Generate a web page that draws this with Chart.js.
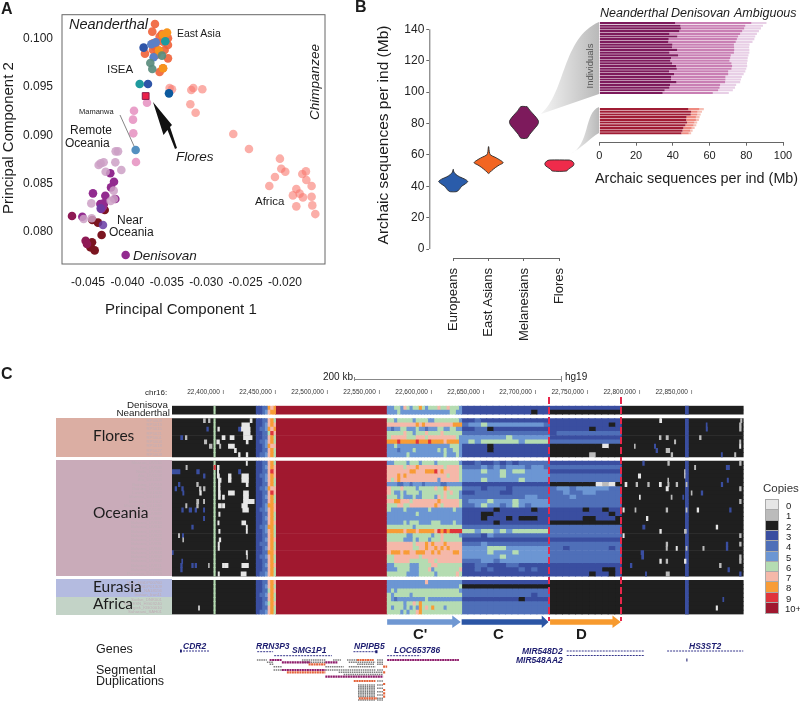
<!DOCTYPE html>
<html><head><meta charset="utf-8">
<script src="https://cdn.jsdelivr.net/npm/chart.js@4"></script>
<style>
html,body{margin:0;padding:0;background:#fff;width:800px;height:703px;overflow:hidden;font-family:"Liberation Sans",Arial,sans-serif;color:#1c1c1c}
canvas{position:absolute;display:block;filter:blur(.3px)}
.t{position:absolute;white-space:nowrap;line-height:1;transform:translateY(-50%)}
.r{position:absolute;white-space:nowrap;line-height:1;transform:translate(-50%,-50%) rotate(-90deg)}
.b{position:absolute}
svg{position:absolute;left:0;top:0}
</style></head><body>
<svg width="800" height="703" style="z-index:0">
<defs><linearGradient id="g" x1="0" x2="1" y1="0" y2="0"><stop offset="0" stop-color="#f4f4f4"/><stop offset="1" stop-color="#b9b9b9"/></linearGradient></defs>
<path d="M541,114 C566,92 562,38 599,22 L599,94 Z" fill="url(#g)"/>
<path d="M570,154 C590,146 584,112 599,107 L599,133 C590,138 582,148 570,154 Z" fill="url(#g)"/>
</svg>
<div id="pan"></div>
<canvas id="cA" width="328" height="300" style="left:-2px;top:0;z-index:1"></canvas>
<canvas id="cB" width="182" height="330" style="left:400px;top:20px;z-index:1"></canvas>
<canvas id="cI" width="220" height="150" style="left:580px;top:15px;z-index:1"></canvas>
<canvas id="cH" width="644" height="234" style="left:100px;top:385px;z-index:1"></canvas>
<canvas id="cT" width="572" height="91" style="left:172px;top:612px;z-index:1"></canvas>
<svg width="800" height="703" style="z-index:2;pointer-events:none">
<line x1="120" y1="115" x2="134" y2="146" stroke="#666" stroke-width="0.8"/>
<polygon points="153,102 163.5,135 167.5,130 175,149 177,148 170,127 172,125" fill="#111"/>
</svg>
<div id="ann" style="position:absolute;left:0;top:0;z-index:3"></div>
<script>
// ---------- Panel A: principal components ----------
const pc1Ticks=[-0.045,-0.040,-0.035,-0.030,-0.025,-0.020];
const pc2Ticks=[0.080,0.085,0.090,0.095,0.100];
const africaX=[-.02656,-.02457,-.02064,-.02047,-.01996,-.02127,-.02199,-.0178,-.01734,-.01729,-.01662,-.01856,-.01899,-.01814,-.01772,-.01662,-.01856,-.01653,-.01615,-.03163,-.03189,-.03049,-.03201,-.03134,-.03464,-.03434];
const africaY=[.09014,.08858,.08758,.08654,.08623,.08568,.08474,.08599,.08626,.08536,.08474,.08443,.08377,.08395,.08356,.08363,.08263,.08273,.08183,.09491,.09471,.09478,.09322,.09235,.09491,.09478];
const eastAsiaX=[-.0365,-.03684,-.03561,-.03591,-.03485,-.03675,-.03633,-.03548,-.03485,-.03777,-.03675,-.03599,-.03527,-.03485,-.03548,-.03591,-.03633,-.03654];
const eastAsiaY=[.10156,.10076,.10052,.10024,.10007,.09955,.09962,.09972,.09938,.09848,.09886,.09879,.09886,.09799,.09696,.09657,.09834,.0992];
const amberX=[-.03497,-.03548,-.03599,-.03548];
const amberY=[.10066,.10042,.09879,.09696];
const darkBlueX=[-.03794,-.03739];
const darkBlueY=[.0991,.09533];
const navyX=[-.03472];
const navyY=[.09436];
const midBlueX=[-.03696,-.03641,-.03667];
const midBlueY=[.09945,.09965,.0981];
const tealX=[-.03519,-.03844];
const tealY=[.09976,.09533];
const greyGreenX=[-.03561,-.03709,-.03684];
const greyGreenY=[.09827,.09751,.09689];
const floresX=[-.03768];
const floresY=[.09408];
const pinkX=[-.03751,-.03916,-.03929,-.03925,-.03891];
const pinkY=[.09339,.09256,.09163,.09021,.08723];
const mamanwaX=[-.03895];
const mamanwaY=[.08848];
const palePurpleX=[-.04149,-.04119,-.04153,-.04077,-.04301,-.04365,-.04339,-.04276,-.04174,-.04212,-.04458,-.04453,-.04555,-.0417];
const palePurpleY=[.08834,.08834,.0872,.0864,.0872,.08692,.08709,.08623,.08426,.08318,.08294,.08139,.08132,.08339];
const purpleX=[-.04217,-.0417,-.04208,-.04437,-.0428,-.04153,-.04343,-.04301,-.04331,-.0431,-.04572,-.04022];
const purpleY=[.08606,.08519,.0846,.08398,.08374,.08339,.08287,.08294,.08235,.0826,.08156,.07758];
const violetX=[-.0431,-.04339];
const violetY=[.08069,.08242];
const magentaX=[-.04703,-.0453,-.04513];
const magentaY=[.08163,.07907,.07872];
const darkRedX=[-.04327,-.04449,-.0447,-.04415,-.04301,-.04445,-.04373,-.04288];
const darkRedY=[.07966,.0789,.07838,.07806,.08287,.08121,.08094,.08225];

// ---------- Panel B: violins ----------
const groupNames=['Europeans','East Asians','Melanesians','Flores'];
const yMbTicks=[0,20,40,60,80,100,120,140];
const eurMb=[50.7,49,47.5,46,44.5,43,41.5,40,38.5,37,36.5];
const eurHalf=[.005,.02,.08,.18,.33,.41,.34,.24,.19,.13,.08];
const easMb=[65.2,62,60,58.5,57,55,53.5,52,50,48.2];
const easHalf=[.005,.02,.05,.18,.3,.41,.3,.2,.09,.01];
const melMb=[90.7,88,85,82,80.7,79,76,73,70.7];
const melHalf=[.09,.18,.3,.4,.41,.38,.27,.16,.09];
const floMb=[56.7,56,54.5,53,51,49.7];
const floHalf=[.28,.36,.41,.39,.26,.2];

// ---------- Panel B inset: per individual stacks ----------
const insetTicks=[0,20,40,60,80,100];
const melNeanderthal=[41.3,44.2,44.4,43.6,38.2,42.5,37.8,37.6,39.8,39.6,42.4,38.2,42.9,39.1,38.7,39.6,41.8,42.2,38,40.7,39.1,39.1,42,38.5,38.2,35.6,34.5];
const melDenisovan=[41.5,35.3,34.5,34.2,38.5,33.1,37.1,36.7,33.5,33.8,31.1,35.1,28.7,32.2,32.2,32.4,30.5,29.8,32.2,29.5,29.6,29.6,26.5,27.3,27.3,29.1,27.3];
const melAmbiguous=[8.2,9.6,9.1,9.1,9.1,9.3,9.5,9.1,8.5,8.2,8.2,8.4,9.6,9.5,9.8,8.4,8.2,8,9.3,8.4,8.9,8.4,8.2,8.7,8.4,8,8.7];
const floNeanderthal=[48.5,50,49.8,47.5,47.3,47.8,46.9,45.8,45.3,44.7];
const floDenisovan=[6,3.5,3.6,5.1,5.3,4,4.4,4.5,4.2,4];
const floAmbiguous=[2.4,2.4,1.8,2,1.6,1.5,1.5,1.6,1.3,1.3];

// ---------- Panel C: copy number (kb on chr16) ----------
const copyKeys=['0','1','2','3','4','5','6','7','8','9','X'];
const copyLabels=['0','1','2','3','4','5','6','7','8','9','10+'];
const copyColors=['#e6e6e6','#bbbbbb','#1f1f1f','#3a4ea0','#4f6fb8','#6c96d3','#b5dcb2','#f5b8a9','#f89c36','#e0343b','#a0182f'];
const chrTicks=[22400,22450,22500,22550,22600,22650,22700,22750,22800,22850];
const chrMin=22350.6, chrMax=22900.4;
const sampleNames=['Denisova','Neanderthal','',
'RP5009','RP5013','RP5015','RP5021','RP5001','RP5004','RP5018','RP5027','RP5008','',
'Mussau_UV516','Tari_UV500','Nialis_UV560','Ata_UV1154','Ata_UV1200','Baining_UV543','Baining_UV565','Lasen_UV1000','Mamusi_UV1049','Mamusi_UV1004','Mangseng_UV1260','Nasioi_UV1166','Nakanai_UV889','Nakanai_UV897','Nakanai_UV910','Nakanai_UV916','Nakanai_UV925','Nakanai_UV929','Nakanai_UV928','Nakanai_UV931','Nakanai_UV940','Nakanai_UV944','Nakanai_UV958','Nakanai_UV964','Nakanai_UV971','Nakanai_UV986','Punanga_UV1263','',
'Han_HGDP00760','Dai_HGDP01309','Japan_NA18156','Iranian_Iran11','Sudan_DNK001','EastESN_HG03240','Ogiek_KBO0010','Saharawi_SAH01'];
// shared spans in every sample: [copy, start kb, end kb]
const sharedSpans=[['2',22350.6,22431.5],['6',22390.8,22392.2],['X',22449.8,22557.4],['2',22782.2,22899.7],['3',22844,22847]];
const flankEdges=[22431.5,22434,22436.6,22439.2,22441.8,22444.3,22447.5,22449.8];
const zoneBounds=[22557.4,22628.7,22713.2,22782.2];
// per sample: flank columns, then C', C and D columns ('' = spacer row)
const rowFlank=['3344878','3345788','',
'3344786','3345787','3445878','3344697','3344786','3445786','3345877','3344786','3445786','',
'3344786','3345787','3344797','3445787','3345786','3344786','3445877','3344797','3345786','3344786','3345887','3445787','3344786','3345786','3344787','3445886','3345786','3344786','3345787','3444786','3345786','3344887','3445786','3344786','3345787','3344786','3445786','',
'3344787','3345786','3344687','3445786','3344786','3345687','3344786','3445786'];
const rowCPrime=['556657656686566676676665','555655555555555555556655','',
'665666665666655666666665','777777777878777777777888','545566555655455566556655','666667665666766667666666','677777666777677777777765','888988888988898888788885','556555555555555555556665','555455556555555565655665','555555655555555555655565','',
'556666566656666566666665','777776777877777777677776','777777788777888978777776','777878777777777777767776','767877777777777757777776','555445545554555554455555','766676666566666766876666','765565666656666666767665','666565556556666576766665','778877767777777787777776','666776677777777876777776','655556555555565555555655','555555555655555555555555','555555555555555555555555','555556566655556665555655','666666665666666666666666','888887888788888798989999','666666556666665667666665','666665556566656667666666','777777776777878777877777','777777776677877878787777','788878877888778787777887','667777777767777777777777','667777766666677677777777','556666655566667766666666','555666655566675666666667','666666555566666566666676','',
'555555555555755555555555','555555555555555555555556','565666666666666666666665','656666656666666666666666','654555555555655555555555','666665667686666666666666','656665656586768666566666','666656566786666666666666'];
const rowC=['33333333333333','33333333333233','',
'33433333333333','45565555555554','33442333333333','44444444444444','55555556555555','56566666656666','33332333333333','33332333333333','33333333333333','',
'33433434344444','44454545554554','55565565665555','55555565555555','55565555565555','33333333333333','44434443444444','33444433444444','44444444445544','45556555655555','44565545654555','33333233333233','33322333333333','33323332322233','33333233333333','44444444444444','66566565666666','44435444444444','33333333333333','44454444444444','55556665555555','55556555655555','55555565555555','44455455555555','33443334433333','33434333343433','33333333333333','',
'33333333333333','22222222222222','44444444444444','44444444444344','33333333323333','44444444444444','44444444444444','44444444444444'];
const rowD=['33333333333','22222222222','',
'33333333333','33333333323','33333323333','34444444444','33333333333','44444444444','22222222022','22222222222','22222212222','',
'33333333333','44444444444','33333333333','44444444444','44444444444','22222220102','45545555544','44544554444','44454444444','44444444444','44444444444','33333233233','33333333323','33333223332','22222222222','44444444444','44444444444','44444444444','33333333333','44444444444','44344444434','44444444444','44444444444','44444444444','33333333333','33333333223','33333323323','',
'22222222222','22222222222','22222222222','22222222222','22222222222','22222222222','22222222222','22222222222'];
// small isolated spans per sample: [copy, start kb, end kb]
const rowSpecks=[[],[],[],
[['1',22380.8,22382.7],['1',22385.6,22387.2],['0',22425.7,22427.6],['0',22819.3,22820.4],['0',22820,22821.3],['1',22897.1,22898.4]],
[['0',22417.7,22425.1],['3',22864,22865],['1',22896.1,22897.7]],
[['3',22384,22385.6],['3',22414.5,22416.7],['0',22394.6,22396.2],['0',22417,22425.7],['3',22864,22865.3],['1',22896.1,22897.7]],
[['0',22419.3,22425.7]],
[['3',22358.9,22360.9],['1',22363.4,22365],['0',22398.7,22401.6],['0',22406.4,22410.3],['0',22419.3,22427.6],['1',22819,22820.7],['1',22825.5,22827.7],['1',22857.6,22859.2]],
[['0',22393.6,22396.2],['0',22421.9,22423.8],['1',22381.7,22384],['1',22833.5,22834.8],['1',22896.1,22897.4]],
[['1',22386.5,22389.1],['1',22396.2,22397.5],['0',22404.8,22410.6],['1',22795,22795.9],['3',22814.2,22815.5],['0',22896.1,22897.4]],
[['0',22410.6,22412.5],['1',22825.5,22829],['3',22815.8,22817.4]],
[['0',22414.5,22416.1],['0',22421.9,22423.5],['1',22830.3,22831.9],['3',22878.5,22879.7],['1',22891.3,22892.6]],[],
[['0',22421.9,22423.1],['3',22803,22804.6],['1',22827.1,22828.7],['1',22896.1,22897.7]],
[['1',22364,22365.3],['9',22391,22392.3],['0',22394.2,22395.9],['3',22883.3,22886.5],['1',22852.8,22854]],
[['3',22350.9,22358.3],['3',22374.3,22376.9],['3',22414.5,22416.7],['0',22394.2,22395.5],['1',22843.1,22843.8]],
[['3',22380.8,22382.4],['0',22394.2,22396.2],['0',22404.8,22407.4],['0',22417.7,22424.1],['0',22798.8,22801.1],['1',22843.1,22843.8]],
[['0',22395.2,22397.8],['0',22404.8,22407.4],['0',22417.7,22424.1],['1',22827.1,22828],['3',22884.2,22885.5]],
[['3',22356.7,22358.3],['1',22374.3,22375.9],['0',22395.2,22396.8],['0',22421.9,22423.8],['0',22786,22787.9],['1',22796.6,22798.2],['1',22807.8,22809.4],['0',22819,22821],['1',22827.1,22828.4],['1',22835.1,22836.7],['1',22844.7,22845.7],['3',22878.5,22880]],
[['3',22353.5,22355.1],['3',22359.9,22361.5],['1',22376.9,22378.5],['1',22380.8,22382.4],['0',22395.2,22396.8],['0',22825.5,22827.7],['1',22896.1,22897.7]],
[['3',22360.9,22362.1],['0',22377.2,22378.8],['0',22395.2,22397.1],['0',22404.8,22410.6],['0',22419.3,22424.1],['3',22859.2,22860.8],['1',22849.6,22850.5]],
[['0',22395.2,22397.1],['0',22399.1,22401],['0',22419.3,22424.1],['0',22799.8,22800.8],['1',22830.3,22831.3],['3',22841.5,22842.5]],
[['1',22374.3,22376.3],['1',22380.8,22382],['0',22419.3,22424.1],['0',22424.1,22429.6],['1',22896.1,22897.7]],
[['1',22363.7,22365],['1',22374.3,22375.9],['0',22395.2,22398.1],['0',22399.1,22401.3],['0',22417.7,22423.1]],
[['3',22359.9,22361.5],['3',22367,22369.5],['3',22372.7,22374.3],['3',22380.8,22382],['0',22418.6,22424.1],['0',22784,22785.3],['1',22795.6,22796.6],['1',22825.5,22827.1],['1',22844.7,22845.7],['0',22855.3,22856.9],['3',22886.5,22888.1]],
[['0',22395.5,22396.8]],
[['3',22380.8,22382],['0',22806.5,22808.1],['3',22844.7,22845.7]],
[['0',22394.6,22395.9],['0',22417.7,22421.5]],
[['3',22369.5,22371.1],['0',22421.9,22423.1],['3',22803,22805.2],['0',22873.6,22875.2]],
[['0',22395.5,22396.8],['0',22421.9,22423.1],['0',22819.4,22821],['1',22843.1,22845]],
[['1',22356.7,22358],['3',22360.5,22361.8],['0',22784,22785.3],['1',22896.1,22897.7]],
[['0',22395.9,22397.5],['1',22360.9,22361.8]],
[['0',22394.9,22396.2],['1',22825.5,22827.1],['3',22883.3,22884.9],['1',22896.1,22897.7]],
[['0',22394.9,22396.2],['1',22825.5,22826.8],['0',22835.1,22836.4],['1',22844.7,22845.7],['1',22860.8,22862.1],['3',22883.3,22884.9]],
[['3',22350.9,22351.9],['0',22421.9,22423.1],['3',22801.4,22804]],
[['0',22422.5,22423.1],['3',22802,22804],['1',22896.1,22897.7]],
[['3',22359.9,22360.9],['0',22819.4,22821],['1',22825.5,22827.1],['0',22843.1,22844.7],['1',22896.1,22897.7]],
[['3',22358.9,22360.5],['3',22369.5,22371.1],['3',22372.7,22374.3],['1',22385.6,22386.5],['0',22399.1,22400.7],['0',22401,22404.5],['0',22417.7,22424.1],['3',22791.1,22792.7],['1',22876.8,22878.5]],
[['3',22358.9,22360.5],['3',22884.9,22886.5]],
[['0',22394.9,22396.2],['0',22417,22421.9],['3',22805.6,22806.8],['1',22825.5,22828.7],['3',22896.1,22897.7]],[],
[],[],[],[],[['3',22880,22881]],[],[['1',22375.9,22377.2],['0',22873.6,22875]],[]];

// ---------- Panel C tracks ----------
const arrowStart=[22557.4,22629,22714];
const arrowNeck=[22620,22706,22774];
const arrowTip=[22628.2,22712.5,22782];
const arrowColors=['#6f97d2','#2b55a5','#f79a2e'];
const geneSpans=[[22358.3,22386.5,39],[22432.5,22447.8,39.7],[22448.8,22504.4,43.7],[22525,22548.1,39.7],[22557.4,22589.5,43.7],[22730,22805,39],[22730,22805,43.5],[22826.5,22899.7,39]];
const geneExons=[[22358.3,22360,39],[22546,22548.1,39.7],[22845,22846,48]];
const grayDups=[[22432.2,22441.8,48],[22475.5,22498,48],[22505.4,22513,48],[22518.8,22528.5,48],[22547.7,22553.5,48],[22441.8,22448.2,50.3],[22475.5,22498,50.3],[22520.5,22546,50.3],[22547.7,22553.5,50.3],[22444.4,22448,52.3],[22528.5,22545,52.3],[22547.7,22553.5,52.3],[22448.2,22456.2,54.7],[22498,22515.6,54.7],[22520.5,22546.1,54.7],[22448.2,22456.2,58],[22498,22510.8,58],[22510.8,22546.1,58],[22547.7,22553.5,58],[22510.8,22553.5,60.3],[22515.6,22553.5,62.5],[22547.7,22553.5,69],[22529.4,22546.1,73],[22529.4,22546.1,74.7],[22529.4,22546.1,76.3],[22529.4,22546.1,78],[22529.4,22546.1,79.7],[22529.4,22546.1,81.3],[22529.4,22546.1,83],[22529.4,22546.1,84.7],[22529.4,22546.1,88],[22547.7,22553.5,73],[22547.7,22553.5,76.3],[22547.7,22553.5,79.7],[22547.7,22553.5,83],[22547.7,22553.5,86.3],[22547.7,22553.5,88]];
const maroonDups=[[22444.4,22456.2,48],[22557.4,22626.4,48],[22456.2,22483.5,50.3],[22498,22510,50.3],[22456.2,22498,58],[22498,22553.5,64.7]];
const orangeDups=[[22528.5,22544.5,48],[22481.9,22498,52.3],[22553.5,22557.4,54.7],[22461,22498,60.3],[22553.5,22556,60.3],[22525.3,22546.1,69],[22553.5,22556,72],[22553.5,22556,78],[22553.5,22556,81.3],[22553.5,22556,84.7],[22530.1,22547.7,86.3]];

// ---------- helpers ----------
Chart.defaults.font.family='"Liberation Sans",Arial,sans-serif';
Chart.defaults.animation=false;
Chart.defaults.layout.autoPadding=false;
const pts=(xs,ys)=>xs.map((x,i)=>({x,y:ys[i]}));
const explicit=list=>s=>{s.ticks=list.map(value=>({value}));};
const pinW=w=>s=>{s.width=w;};
const pinH=h=>s=>{s.height=h;};

// ---------- Chart A ----------
const frame={id:'frame',afterDraw(c){const a=c.chartArea,g=c.ctx;g.save();g.strokeStyle='#666';g.lineWidth=1;g.strokeRect(a.left,a.top,a.right-a.left,a.bottom-a.top);g.restore();}};
const sc=(xs,ys,color,extra)=>Object.assign({data:pts(xs,ys),backgroundColor:color,borderWidth:0,pointRadius:4.3,pointHoverRadius:4.3},extra||{});
new Chart(document.getElementById('cA'),{type:'scatter',plugins:[frame],
 data:{datasets:[
  sc(floresX,floresY,'#ec2049',{pointStyle:'rect',pointRadius:4.8,borderWidth:1,borderColor:'#8c1a4b'}),
  sc(pinkX,pinkY,'rgba(231,150,195,.9)'),
  sc(mamanwaX,mamanwaY,'#5490c0'),
  sc(navyX,navyY,'#0d5a9e'),
  sc(tealX,tealY,'#1f9a9e'),
  sc(greyGreenX,greyGreenY,'rgba(90,140,125,.92)'),
  sc(midBlueX,midBlueY,'#5b80c6'),
  sc(darkBlueX,darkBlueY,'#2f55a8'),
  sc(amberX,amberY,'#f7941d'),
  sc(eastAsiaX,eastAsiaY,'rgba(240,98,56,.9)'),
  sc(violetX,violetY,'rgba(105,60,165,.85)'),
  sc(palePurpleX,palePurpleY,'rgba(205,160,198,.85)'),
  sc(purpleX,purpleY,'#922b8f'),
  sc(magentaX,magentaY,'#8e1a55'),
  sc(darkRedX,darkRedY,'#7b1520'),
  sc(africaX,africaY,'rgba(248,120,110,.6)')
 ]},
 options:{responsive:false,plugins:{legend:{display:false},tooltip:{enabled:false}},layout:{autoPadding:false,padding:{top:14.7,right:1}},
  scales:{
   x:{type:'linear',min:-0.0483,max:-0.01492,afterBuildTicks:explicit(pc1Ticks),afterFit:pinH(36),grid:{display:false},border:{display:false},
      ticks:{color:'#222',font:{size:12},padding:3,maxRotation:0,callback:v=>v.toFixed(3)}},
   y:{type:'linear',min:0.07665,max:0.10252,afterBuildTicks:explicit(pc2Ticks),afterFit:pinW(64),grid:{display:false},border:{display:false},
      ticks:{color:'#222',font:{size:12},padding:1,callback:v=>v.toFixed(3)}}
  }}});

// ---------- Chart B ----------
const violin=(idx,mb,half,color)=>{
 const right=mb.map((y,i)=>({x:idx+half[i],y}));
 const left=mb.map((y,i)=>({x:idx-half[i],y})).reverse();
 return {data:right.concat(left,[right[0]]),showLine:true,fill:'shape',backgroundColor:color,borderColor:'#2b2b2b',borderWidth:.9,pointRadius:0,tension:.3};
};
const despine={id:'despine',afterDraw(c){const g=c.ctx,x=c.scales.x,y=c.scales.y;g.save();g.strokeStyle='#666';g.lineWidth=1;g.beginPath();
 g.moveTo(x.left+.5,y.getPixelForValue(0));g.lineTo(x.left+.5,y.getPixelForValue(140));
 g.moveTo(x.getPixelForValue(0),y.bottom+.5);g.lineTo(x.getPixelForValue(3),y.bottom+.5);g.stroke();g.restore();}};
new Chart(document.getElementById('cB'),{type:'scatter',plugins:[despine],
 data:{datasets:[violin(0,eurMb,eurHalf,'#2a5caa'),violin(1,easMb,easHalf,'#f26522'),violin(2,melMb,melHalf,'#7d1a5c'),violin(3,floMb,floHalf,'#ef2b4b')]},
 options:{responsive:false,plugins:{legend:{display:false},tooltip:{enabled:false}},layout:{autoPadding:false,padding:{top:9.3}},
  scales:{
   x:{type:'linear',min:-0.675,max:3.49,afterBuildTicks:explicit([0,1,2,3]),afterFit:pinH(92),border:{display:false},
      grid:{drawOnChartArea:false,drawTicks:true,tickLength:3,color:'#666'},
      ticks:{autoSkip:false,color:'#222',font:{size:13},minRotation:90,maxRotation:90,padding:7,callback:v=>groupNames[v]}},
   y:{type:'linear',min:-5.73,max:140,afterBuildTicks:explicit(yMbTicks),afterFit:pinW(29.3),border:{display:false},
      grid:{drawOnChartArea:false,drawTicks:true,tickLength:3,color:'#666'},
      ticks:{color:'#222',font:{size:12},padding:2}}
  }}});

// ---------- Inset ----------
const blanks=n=>Array(n).fill(null);
const insetLabels=blanks(45).map((_,i)=>String(i));
const stackSet=(mel,flo,cm,cf)=>({data:mel.concat(blanks(5),flo,blanks(3)),backgroundColor:mel.map(()=>cm).concat(blanks(5).map(()=>cm),flo.map(()=>cf),blanks(3).map(()=>cf)),barPercentage:.8,categoryPercentage:1,borderWidth:0});
new Chart(document.getElementById('cI'),{type:'bar',
 data:{labels:insetLabels,datasets:[stackSet(melNeanderthal,floNeanderthal,'#7d1a5c','#a01c34'),stackSet(melDenisovan,floDenisovan,'#c97fb4','#ee8a80'),stackSet(melAmbiguous,floAmbiguous,'#e8cfe6','#f6bfb5')]},
 options:{indexAxis:'y',responsive:false,plugins:{legend:{display:false},tooltip:{enabled:false}},layout:{autoPadding:false,padding:{left:19.3,right:17,top:6.7}},
  scales:{
   x:{type:'linear',stacked:true,min:0,max:100,afterBuildTicks:explicit(insetTicks),afterFit:pinH(22.3),border:{color:'#666'},
      grid:{drawOnChartArea:false,drawTicks:true,tickLength:3,color:'#666'},ticks:{color:'#222',font:{size:11},padding:4,maxRotation:0}},
   y:{stacked:true,display:false}
  }}});

// ---------- Heat map ----------
const colorOf=k=>copyColors[copyKeys.indexOf(k)];
const rowSpans=sampleNames.map((name,r)=>{
 if(!name) return [];
 const out=[];
 rowSpecks[r].forEach(s=>out.push(s));
 const f=rowFlank[r];
 for(let i=0;i<f.length;i++) out.push([f[i],flankEdges[i],flankEdges[i+1]+.4]);
 [rowCPrime[r],rowC[r],rowD[r]].forEach((str,z)=>{
  const w=(zoneBounds[z+1]-zoneBounds[z])/str.length;
  for(let i=0;i<str.length;i++) out.push([str[i],zoneBounds[z]+i*w,zoneBounds[z]+(i+1)*w+.4]);
 });
 return out;
});
const maxSpecks=Math.max(...rowSpecks.map(s=>s.length));
const layers=[];
for(let i=0;i<maxSpecks;i++) layers.push(sampleNames.map((n,r)=>rowSpecks[r][i]||null));
const bandCount=rowFlank[0].length+rowCPrime[0].length+rowC[0].length+rowD[0].length;
for(let i=0;i<bandCount;i++) layers.push(sampleNames.map((n,r)=>n?rowSpans[r][rowSpecks[r].length+i]:null));
[sharedSpans[4],sharedSpans[1],sharedSpans[0],sharedSpans[2],sharedSpans[3]].forEach(s=>layers.push(sampleNames.map(n=>n?s:null)));
const heatSets=layers.map(l=>({stack:'a',data:l.map(s=>s?[s[1],s[2]]:null),backgroundColor:l.map(s=>s?colorOf(s[0]):'transparent'),borderWidth:0,barPercentage:1,categoryPercentage:1}));
const chrMarks={id:'chrMarks',afterDraw(c){const g=c.ctx,x=c.scales.x;g.save();g.strokeStyle='#777';g.lineWidth=.8;g.beginPath();chrTicks.forEach(t=>{const p=x.getPixelForValue(t);g.moveTo(p,5);g.lineTo(p,9);});g.stroke();g.restore();}};
new Chart(document.getElementById('cH'),{type:'bar',plugins:[chrMarks],
 data:{labels:sampleNames,datasets:heatSets},
 options:{indexAxis:'y',responsive:false,layout:{autoPadding:false},plugins:{legend:{display:false},tooltip:{enabled:false}},
  scales:{
   x:{type:'linear',position:'top',stacked:false,min:chrMin,max:chrMax,afterBuildTicks:explicit(chrTicks),afterFit:pinH(20.7),border:{display:false},
      grid:{display:false},ticks:{align:'end',color:'#333',font:{size:6.5},padding:2,maxRotation:0,autoSkip:false,callback:v=>(v*1000).toLocaleString('en-US')+'  '}},
   y:{stacked:true,afterFit:pinW(72),border:{display:false},grid:{display:false},
      ticks:{autoSkip:false,padding:2,font:{size:4.3},color:'#c0aeb6',callback(v,i){return i<2?'':sampleNames[i];}}}
  }}});

// ---------- Tracks ----------
const seg=(s,c,w,dash)=>({data:[{x:s[0],y:s[2]},{x:s[1],y:s[2]}],showLine:true,borderColor:c,borderWidth:w,borderDash:dash||[],pointRadius:0});
const arrow=i=>({data:[{x:arrowStart[i],y:7.3},{x:arrowNeck[i],y:7.3},{x:arrowNeck[i],y:3.5},{x:arrowTip[i],y:10},{x:arrowNeck[i],y:16},{x:arrowNeck[i],y:12.7},{x:arrowStart[i],y:12.7},{x:arrowStart[i],y:7.3}],showLine:true,fill:'shape',backgroundColor:arrowColors[i],borderWidth:0,pointRadius:0});
const trackSets=[arrow(0),arrow(1),arrow(2)]
 .concat(geneExons.map(s=>seg(s,'#1d1d70',3)))
 .concat(geneSpans.map(s=>seg(s,'#35358c',1,[2,1])))
 .concat(orangeDups.map(s=>seg(s,'#e4633a',2.2,[2,.5])))
 .concat(maroonDups.map(s=>seg(s,'#8f1d6b',2.2,[2,.5])))
 .concat(grayDups.map(s=>seg(s,'#7c7c7c',1.6,[1.5,.7])));
new Chart(document.getElementById('cT'),{type:'scatter',data:{datasets:trackSets},
 options:{responsive:false,layout:{autoPadding:false},plugins:{legend:{display:false},tooltip:{enabled:false}},
  scales:{x:{type:'linear',display:false,min:chrMin,max:chrMax},y:{type:'linear',display:false,reverse:true,min:0,max:91}}}});

// ---------- Text and panels ----------
const ann=document.getElementById('ann'),pan=document.getElementById('pan');
function T(txt,x,y,size,extra){const d=document.createElement('div');d.className='t';d.textContent=txt;d.style.left=x+'px';d.style.top=y+'px';d.style.fontSize=size+'px';Object.assign(d.style,extra||{});ann.appendChild(d);}
function R(txt,x,y,size,extra){const d=document.createElement('div');d.className='r';d.textContent=txt;d.style.left=x+'px';d.style.top=y+'px';d.style.fontSize=size+'px';Object.assign(d.style,extra||{});ann.appendChild(d);}
function B(host,x,y,w,h,c,extra){const d=document.createElement('div');d.className='b';d.style.cssText+=`left:${x}px;top:${y}px;width:${w}px;height:${h}px;background:${c}`;Object.assign(d.style,extra||{});host.appendChild(d);}
const head={fontWeight:'bold',fontFamily:'"Liberation Sans Narrow","Liberation Sans"'};
T('A',1,9,16,head);T('B',355,7,16,head);T('C',1,374,16,head);
const it={fontStyle:'italic'};
T('Neanderthal',69,24,14.5,it);T('East Asia',177,33,10.5);T('ISEA',107,70,11.5);T('Mamanwa',79,112,7.5);
T('Remote',70,130,12);T('Oceania',65,143,12);T('Flores',176,157,13.5,it);T('Africa',255,202,11.5);
T('Near',117,220,12);T('Oceania',109,232,12);T('Denisovan',133,256,13.5,it);
R('Chimpanzee',315,82,13.5,it);
T('Principal Component 1',105,308,15);R('Principal Component 2',7,138,15);
R('Archaic sequences per ind (Mb)',382.5,135,15.5);
T('Neanderthal',600,13,12.5,it);T('Denisovan',671,13,12.5,it);T('Ambiguous',734,13,12.5,it);
R('Individuals',590,66,9.5,{color:'#555'});
T('Archaic sequences per ind (Mb)',595,178,14.4);
// panel C
const lato={fontFamily:'Lato,"Open Sans",sans-serif'};
B(pan,56,418,115.7,39,'#dbaea3');B(pan,56,460,115.7,116,'#c9abb9');B(pan,56,579,115.7,18,'#b4bbe0');B(pan,56,597,115.7,18,'#c3d3c7');
pan.style.cssText='position:absolute;left:0;top:0;z-index:0';
T('Flores',93,436,15.5,lato);T('Oceania',93,513,15.5,lato);T('Eurasia',93,587,15.5,lato);T('Africa',93,604,15.5,lato);
T('Denisova',127,404.5,9.8);T('Neanderthal',116.5,412.5,9.8);
T('200 kb',323,377,10);T('hg19',565,377,10);T('chr16:',145,392.5,8);
B(ann,354,379,207,1,'#888');B(ann,561,376,1,6,'#888');B(ann,354,377,1,4,'#888');
const dash='repeating-linear-gradient(to bottom,#e8274b 0 7px,transparent 7px 10px)';
B(ann,547.5,397,2,224,'transparent',{backgroundImage:dash});B(ann,619.5,397,2,224,'transparent',{backgroundImage:dash});
const bold={fontWeight:'bold'};
T("C'",413,633,15,bold);T('C',493,633,15,bold);T('D',576,633,15,bold);
const gene={fontStyle:'italic',fontWeight:'bold',color:'#1d1d70'};
T('CDR2',183,646,8.5,gene);T('RRN3P3',256,646,8.5,gene);T('SMG1P1',292,650,8.5,gene);T('NPIPB5',354,646,8.5,gene);T('LOC653786',394,650,8.5,gene);
T('MIR548D2',522,651,8.5,gene);T('MIR548AA2',516,660,8.5,gene);T('HS3ST2',689,646,8.5,gene);
T('Genes',96,649,12.5);T('Segmental',96,670,12.5);T('Duplications',96,681,12.5);
T('Copies',763,489,11.5,{color:'#333'});
copyColors.forEach((c,i)=>{B(ann,766,500+i*10.3,12,10.3,c,{outline:'0.5px solid #aaa'});T(copyLabels[i],785-(copyLabels[i].length>1?0:-1),506+i*10.3,9.5,{color:'#222'});});
</script>
</body></html>
